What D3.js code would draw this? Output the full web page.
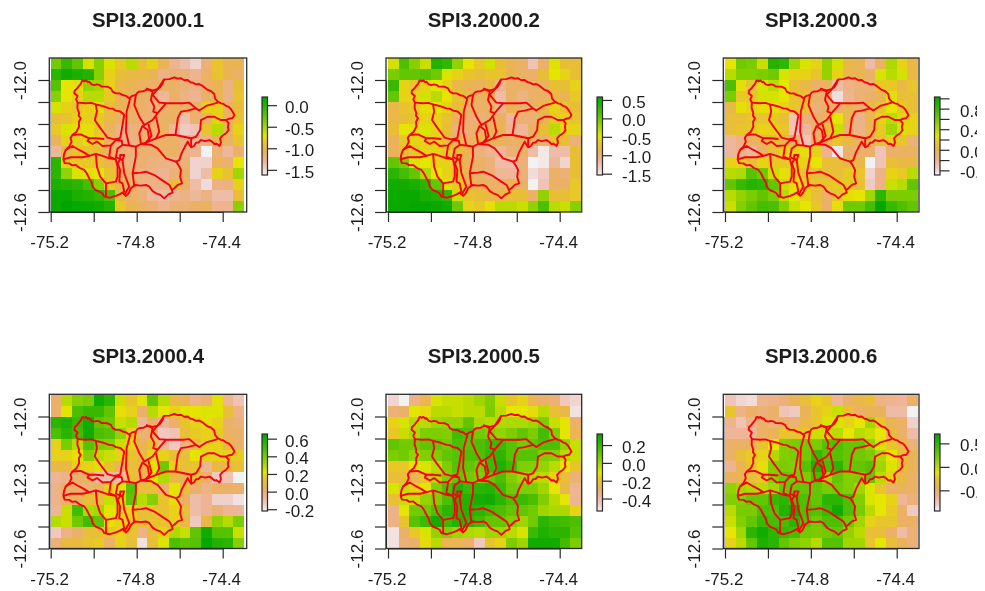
<!DOCTYPE html>
<html>
<head>
<meta charset="utf-8">
<title>SPI3 2000</title>
<script src="https://cdn.jsdelivr.net/npm/d3@7"></script>
<style>
  html, body { margin: 0; padding: 0; background: #fff; }
  svg { display: block; filter: blur(0.55px); }
  text { font-family: "Liberation Sans", Arial, sans-serif; fill: #1c1c1c; }
</style>
</head>
<body>
<script>
// raster values, one row per latitude band, north to south
var spi1 = [
  [-.32,-.08,-.26,-.66,-.41,-.68,-.86,-.57,-.93,-.81,-1.04,-1.26,-1.35,-1.48,-1.17,-.90,-1.04,-1.04],
  [-.03,.10,.05,.01,-.41,-.81,-.93,-.99,-.99,-1.04,-1.22,-1.17,-1.17,-1.26,-1.11,-.90,-1.04,-1.11],
  [-.21,-.72,-.75,-.44,-.50,-.81,-.99,-1.04,-1.08,-1.11,-1.11,-1.11,-1.17,-1.22,-1.11,-1.04,-1.22,-.93],
  [-.41,-.72,-.81,-.57,-.57,-.86,-1.04,-1.08,-1.11,-1.11,-1.29,-1.11,-1.22,-1.26,-1.11,-1.04,-1.22,-.90],
  [-.66,-.81,-.86,-.81,-.75,-.93,-1.04,-1.08,-1.11,-1.17,-1.11,-1.08,-1.11,-1.11,-.81,-.81,-1.11,-.93],
  [-.93,-.90,-.81,-.81,-.86,-.99,-1.11,-1.11,-1.15,-1.15,-1.11,-1.11,-1.37,-1.15,-1.08,-.81,-1.08,-.90],
  [-.86,-.68,-.75,-.75,-.86,-1.08,-1.22,-1.19,-1.17,-1.15,-1.08,-1.29,-1.44,-1.40,-.90,-.57,-1.04,-.81],
  [-1.04,-.81,-.81,-.75,-.81,-1.08,-1.22,-1.22,-1.11,-1.15,-1.11,-1.11,-1.19,-1.26,-1.22,-1.04,-1.08,-.90],
  [-1.29,-.99,-.90,-.90,-.93,-1.11,-1.17,-1.19,-1.15,-1.15,-1.11,-1.11,-1.22,-1.26,-1.62,-1.17,-1.29,-1.11],
  [-.03,-.81,-.86,-.86,-.90,-1.00,-1.15,-1.19,-1.15,-1.19,-1.22,-1.22,-1.17,-1.49,-1.48,-1.08,-1.15,-.72],
  [-.03,-.44,-.68,-.75,-.72,-.90,-1.08,-1.15,-1.19,-1.22,-1.26,-1.17,-1.11,-1.49,-1.35,-.81,-.90,-.50],
  [.05,.01,-.03,-.14,-.41,-.86,-1.04,-1.11,-1.22,-1.22,-1.22,-.93,-1.11,-1.35,-1.53,-1.22,-1.19,-.81],
  [.14,.14,.05,.01,-.05,-.17,-.99,-1.11,-1.17,-1.29,-1.33,-1.26,-1.22,-1.29,-1.22,-1.35,-1.35,-.93],
  [.14,.19,.15,.14,.10,.01,-.86,-1.04,-1.11,-1.15,-1.26,-1.17,-1.17,-1.11,-1.08,-1.26,-1.26,-.41]
];
var spi2 = [
  [-.41,.16,-.12,-.37,.37,.30,-.16,-.48,-.65,-.41,-.73,-.86,-.94,-1.28,-.94,-.44,-.73,-.73],
  [-.05,.05,.05,.11,-.01,-.44,-.58,-.69,-.73,-.69,-.69,-.86,-.94,-.94,-.73,-.48,-.58,-.73],
  [.26,-.58,-.65,-.58,-.48,-.58,-.80,-.86,-.90,-.80,-1.11,-.94,-.94,-.94,-.90,-.73,-.73,-.58],
  [.05,-.58,-.58,-.41,-.31,-.48,-.69,-.80,-.90,-.86,-1.22,-.94,-1.07,-.94,-.94,-.80,-.86,-.65],
  [-.80,-.69,-.65,-.52,-.48,-.58,-.73,-.90,-.94,-.94,-1.11,-.86,-.94,-.94,-.80,-.58,-.69,-.73],
  [-.80,-.73,-.69,-.58,-.58,-.69,-.90,-.99,-1.01,-.94,-.90,-1.15,-.99,-.99,-.86,-.65,-.58,-.69],
  [-.73,-.48,-.52,-.44,-.58,-.73,-1.01,-.99,-.94,-.90,-.86,-1.11,-1.15,-.94,-.73,-.31,-.58,-.58],
  [-.90,-.65,-.58,-.58,-.58,-.73,-.86,-.94,-.80,-.86,-.86,-.94,-.90,-.90,-.94,-.69,-.73,-1.03],
  [-.90,-.73,-.65,-.58,-.58,-.65,-.73,-.86,-1.03,-1.11,-1.15,-1.01,-.94,-1.22,-1.49,-1.22,-1.22,-.73],
  [.05,-.05,-.44,-.48,-.58,-.58,-.80,-.90,-.94,-1.01,-1.22,-1.22,-1.01,-1.54,-1.49,-1.15,-1.39,-.73],
  [.33,.20,.05,-.27,-.48,-.58,-.73,-.86,-.94,-1.01,-1.15,-1.15,-1.01,-1.43,-1.32,-.94,-1.01,-.73],
  [.47,.47,.43,.33,.05,-.44,-.65,-.80,-.90,-.94,-.94,-.86,-.94,-1.54,-1.28,-.94,-.94,-.65],
  [.50,.52,.52,.43,.37,.30,-.37,-.69,-.73,-.80,-.82,-.73,-.73,-.94,-.16,-.73,-.73,-.65],
  [.52,.52,.54,.54,.52,.47,-.01,-.58,-.65,-.52,-.31,-.31,-.37,-.16,.16,-.31,-.37,-.12]
];
var spi3 = [
  [.27,.60,.57,.34,.87,.83,.45,.30,.19,.49,.31,.04,0,-.26,-.04,.42,.19,.04],
  [.39,.54,.54,.57,.60,.30,.19,.19,.12,.49,.19,0,0,-.07,.30,.39,.31,.04],
  [.72,.24,.12,.30,.39,.27,.09,.04,-.07,-.04,-.26,-.16,-.11,-.11,.15,.15,.04,.12],
  [.57,.15,.12,.31,.31,.27,.12,.09,-.07,-.07,-.42,-.19,-.11,-.07,0,.24,.09,.09],
  [.04,.24,.19,.24,.24,.19,.12,.09,-.11,-.07,-.07,0,-.07,.04,.12,.27,.15,.09],
  [.09,.09,.12,.12,.15,.09,-.31,-.11,-.07,-.04,.27,0,-.16,0,.19,.39,.19,.19],
  [.09,.12,.15,.19,.19,.12,-.31,-.22,-.07,.09,.34,-.07,-.16,0,.15,.45,.30,.19],
  [-.22,-.16,-.04,0,.09,.04,-.04,-.31,-.04,0,.12,.04,-.04,0,.09,.19,.12,-.11],
  [-.22,-.16,-.22,-.07,.09,.19,.19,.24,.19,-.19,-.45,-.07,-.07,-.07,-.31,-.07,-.04,-.04],
  [.19,.19,.09,.19,.15,.15,.19,.19,.27,.09,.09,.04,.04,-.49,-.31,.09,.04,.04],
  [.39,.42,.69,.60,.34,.24,.19,.12,.09,.09,.09,.15,.12,-.38,-.16,.19,.15,.39],
  [.65,.80,.87,.84,.65,.34,.24,.15,.12,.12,.15,.15,.09,-.34,-.16,.34,.39,.65],
  [.39,.49,.57,.65,.57,.39,.27,.19,.09,-.07,.12,.24,.27,.45,.84,.57,.57,.57],
  [.34,.54,.65,.75,.72,.54,.34,.27,.12,-.07,.24,.60,.60,.75,1.00,.80,.72,.65]
];
var spi4 = [
  [.02,.29,.37,.39,.61,.55,.26,.13,.22,.44,.29,.09,.06,-.03,0,.20,-.05,-.11],
  [.02,.22,.48,.52,.52,.44,.20,.17,.02,.29,.22,.17,.22,.22,.23,.23,.11,-.03],
  [.55,.58,.52,.61,.44,.41,.26,.29,-.06,.02,-.05,.02,.13,.17,.20,.17,.02,0],
  [.48,.55,.50,.61,.48,.46,.35,.17,0,.04,-.13,-.11,.11,.15,.17,.15,.04,.02],
  [.17,.39,.29,.46,.39,.37,.26,.17,.06,.13,-.06,-.13,-.03,.09,.17,.17,.09,.02],
  [.17,.17,.22,.37,.29,.26,.17,.13,.09,.17,.17,.11,.11,.22,.17,.17,.17,.15],
  [.09,.09,.17,.17,.20,.13,.04,.11,.09,.22,.41,.17,.11,.13,-.05,.09,.09,.11],
  [-.05,-.03,.02,.04,-.09,-.09,-.09,.11,.04,.23,.30,.09,.06,.11,.02,-.13,-.11,-.22],
  [-.03,.02,.02,0,.04,.17,.22,.46,.11,.11,.02,.22,.11,.02,-.03,.04,.02,.02],
  [-.03,.04,.04,.11,.11,.26,.26,.44,.29,.37,.13,.20,.04,-.09,-.05,-.15,-.15,-.19],
  [-.05,.26,.50,.30,.32,.22,.17,.17,.11,.13,.13,.17,.11,-.09,-.05,0,-.05,-.06],
  [.29,.26,.41,.50,.44,.20,.17,.15,.11,.13,.13,.17,.09,-.13,.09,.35,.29,.39],
  [-.13,-.03,.02,.11,.11,.15,.17,.13,-.03,.11,.17,.30,.26,.44,.61,.46,.46,.26],
  [0,.09,.09,.13,.15,.02,.17,.11,-.19,.11,.23,.48,.44,.46,.64,.57,.55,.37]
];
var spi5 = [
  [-.48,-.54,-.35,-.26,-.09,-.06,-.06,-.04,0,.05,-.06,-.19,-.15,-.26,-.30,-.32,-.45,-.48],
  [-.32,-.30,-.11,-.13,-.04,-.04,-.06,-.04,-.04,.06,-.04,-.11,-.11,-.13,-.04,-.21,-.24,-.51],
  [-.15,-.09,-.04,-.04,0,.02,.02,.11,-.02,-.04,-.02,-.02,-.02,0,.06,-.06,-.11,-.30],
  [-.18,-.06,-.02,.06,.06,.05,.17,.15,.08,.06,.02,.06,.11,.06,.17,.06,-.11,-.26],
  [.11,.08,.08,.11,.11,.08,.15,.13,.15,.19,.19,.13,.08,.11,.15,.15,.02,-.06],
  [.06,.08,.02,.05,.06,.11,.13,.15,.15,.20,.22,.13,.13,.13,.06,.05,-.04,-.06],
  [-.18,-.18,-.11,-.09,-.04,.06,.13,.11,.08,.19,.25,.19,.06,.05,.02,-.04,-.11,-.19],
  [-.21,-.21,-.26,-.18,-.02,.06,.11,.08,.06,.11,.15,.05,0,-.02,-.04,-.15,-.21,-.32],
  [-.09,-.06,-.15,-.11,.05,.15,.24,.19,.22,.24,.19,.08,.06,.06,0,-.11,-.24,-.37],
  [-.21,-.06,-.06,.02,.06,.15,.24,.24,.27,.28,.22,.15,.19,.15,.05,-.04,-.11,-.37],
  [-.35,-.11,.08,.08,.15,.22,.22,.24,.22,.19,.15,.11,.11,.08,0,-.02,-.02,-.15],
  [-.35,-.19,.13,.19,.28,.19,.24,.22,.17,.11,.11,.06,0,.08,.22,.19,.17,.15],
  [-.51,-.30,-.18,-.09,.02,.05,0,-.02,-.04,0,0,-.04,-.09,.19,.25,.22,.22,.13],
  [-.51,-.32,-.30,-.13,-.04,-.26,-.26,-.30,-.45,-.19,-.15,.06,0,.28,.28,.28,.17,.06]
];
var spi6 = [
  [-.74,-.83,-.86,-.61,-.58,-.53,-.42,-.32,-.20,-.28,-.64,-.48,-.37,-.32,-.58,-.61,-.64,-.48],
  [-.28,-.58,-.48,-.53,-.48,-.74,-.78,-.42,-.28,-.20,-.04,-.32,-.48,-.42,-.45,-.69,-.69,-.94],
  [-.61,-.74,-.58,-.48,-.53,-.48,-.53,-.37,-.28,-.09,-.09,-.20,-.12,.08,-.28,-.42,-.48,-.81],
  [-.64,-.64,-.64,-.48,-.42,-.28,-.28,-.28,-.04,-.04,.01,-.12,.01,-.04,-.12,-.37,-.48,-.69],
  [-.48,-.48,-.45,-.28,-.12,.18,.21,.24,.21,.34,.37,.29,.29,.13,-.09,-.28,-.37,-.53],
  [-.48,-.32,-.25,-.20,.04,.18,.21,.24,.45,.34,.34,.29,.24,.21,.04,-.12,-.32,-.42],
  [-.61,-.42,-.28,-.15,.18,.21,.18,.34,.57,.40,.50,.29,.29,.34,.08,-.09,-.32,-.42],
  [-.45,-.42,-.32,-.25,.18,.29,.24,.21,.40,.08,.29,.18,.18,.29,.01,-.20,-.37,-.48],
  [.13,.08,.04,.01,.08,.29,.29,.29,.29,.21,.24,.18,.08,-.09,-.28,-.48,-.45,-.48],
  [.18,.18,.29,.29,.45,.50,.40,.37,.29,.50,.50,.37,.18,-.09,-.12,-.20,-.64,-.53],
  [.01,.21,.21,.37,.37,.54,.62,.37,.34,.45,.62,.37,.21,.01,-.12,-.25,-.48,-.78],
  [-.04,.18,.29,.45,.40,.40,.50,.34,.24,.37,.37,.24,.08,-.20,-.28,-.28,-.48,-.48],
  [-.12,.08,.50,.62,.50,.45,.40,.24,.21,.24,.29,.13,.01,-.32,-.32,-.48,-.69,-.53],
  [-.20,.01,.29,.57,.50,.29,.18,.13,.01,.34,.34,.08,.08,-.28,-.12,-.32,-.45,-.53]
];

var titles = ["SPI3.2000.1", "SPI3.2000.2", "SPI3.2000.3", "SPI3.2000.4", "SPI3.2000.5", "SPI3.2000.6"];
var grids = [spi1, spi2, spi3, spi4, spi5, spi6];
// colour limits of each panel (top and bottom of the legend bar)
var zLimits = [[.19, -1.62], [.58, -1.536], [1.026, -.49], [.653, -.22], [.324, -.54], [.70, -.94]];
var legendTicks = [
  [0, -.5, -1, -1.5],
  [.5, 0, -.5, -1, -1.5],
  [1, .8, .6, .4, .2, 0, -.2, -.4],
  [.6, .4, .2, 0, -.2],
  [.2, 0, -.2, -.4],
  [.5, 0, -.5]
];
var legendLabels = [
  [0, -.5, -1, -1.5],
  [.5, 0, -.5, -1, -1.5],
  [.8, .4, 0, -.4],
  [.6, .4, .2, 0, -.2],
  [.2, 0, -.2, -.4],
  [.5, 0, -.5]
];
var xTicks = [-75.2, -75, -74.8, -74.6, -74.4];
var xLabels = [-75.2, -74.8, -74.4];
var yTicks = [-12, -12.1, -12.2, -12.3, -12.4, -12.5, -12.6];
var yLabels = [-12, -12.3, -12.6];

// raster origin and cell size in degrees
var lonStart = -75.2, latStart = -11.9, cellDeg = 0.05;

// sub-basin boundaries, lon/lat
var outline = [[-75.052,-12.000],[-75.044,-12.006],[-75.035,-12.002],[-75.027,-12.010],[-75.021,-12.008],[-75.010,-12.020],[-74.998,-12.023],[-74.986,-12.020],[-74.975,-12.022],[-74.963,-12.030],[-74.951,-12.030],[-74.935,-12.031],[-74.920,-12.038],[-74.912,-12.053],[-74.897,-12.061],[-74.880,-12.061],[-74.866,-12.068],[-74.850,-12.072],[-74.835,-12.083],[-74.820,-12.072],[-74.804,-12.068],[-74.797,-12.058],[-74.788,-12.053],[-74.768,-12.051],[-74.749,-12.042],[-74.726,-12.047],[-74.703,-12.042],[-74.690,-12.032],[-74.679,-12.015],[-74.677,-12.004],[-74.672,-11.997],[-74.648,-11.996],[-74.625,-11.988],[-74.610,-11.994],[-74.594,-11.992],[-74.579,-12.001],[-74.563,-12.000],[-74.550,-12.010],[-74.540,-12.012],[-74.524,-12.020],[-74.509,-12.018],[-74.492,-12.028],[-74.470,-12.045],[-74.455,-12.050],[-74.439,-12.064],[-74.436,-12.084],[-74.423,-12.098],[-74.408,-12.106],[-74.398,-12.108],[-74.384,-12.118],[-74.372,-12.122],[-74.361,-12.133],[-74.350,-12.151],[-74.345,-12.160],[-74.356,-12.174],[-74.370,-12.176],[-74.384,-12.182],[-74.372,-12.197],[-74.376,-12.212],[-74.373,-12.228],[-74.384,-12.242],[-74.400,-12.252],[-74.412,-12.265],[-74.408,-12.285],[-74.415,-12.300],[-74.428,-12.290],[-74.439,-12.291],[-74.450,-12.280],[-74.462,-12.273],[-74.482,-12.278],[-74.501,-12.273],[-74.513,-12.284],[-74.524,-12.285],[-74.534,-12.300],[-74.547,-12.306],[-74.556,-12.292],[-74.563,-12.280],[-74.574,-12.300],[-74.590,-12.330],[-74.602,-12.364],[-74.617,-12.371],[-74.605,-12.388],[-74.594,-12.409],[-74.598,-12.440],[-74.589,-12.470],[-74.609,-12.477],[-74.625,-12.492],[-74.636,-12.500],[-74.633,-12.512],[-74.652,-12.520],[-74.672,-12.538],[-74.690,-12.522],[-74.710,-12.515],[-74.726,-12.505],[-74.741,-12.485],[-74.757,-12.477],[-74.780,-12.480],[-74.808,-12.477],[-74.827,-12.492],[-74.838,-12.515],[-74.850,-12.527],[-74.866,-12.512],[-74.880,-12.520],[-74.897,-12.527],[-74.925,-12.535],[-74.951,-12.530],[-74.960,-12.515],[-74.974,-12.507],[-74.992,-12.500],[-75.005,-12.485],[-75.010,-12.465],[-75.021,-12.447],[-75.032,-12.425],[-75.044,-12.409],[-75.065,-12.400],[-75.083,-12.386],[-75.100,-12.388],[-75.114,-12.379],[-75.135,-12.378],[-75.141,-12.361],[-75.138,-12.338],[-75.130,-12.318],[-75.113,-12.302],[-75.103,-12.280],[-75.108,-12.264],[-75.099,-12.250],[-75.080,-12.235],[-75.068,-12.212],[-75.069,-12.190],[-75.060,-12.174],[-75.070,-12.162],[-75.068,-12.151],[-75.076,-12.128],[-75.075,-12.103],[-75.082,-12.088],[-75.075,-12.073],[-75.090,-12.060],[-75.088,-12.048],[-75.078,-12.040],[-75.068,-12.027],[-75.060,-12.018],[-75.052,-12.000]];
var innerLines = [
  [[-75.075,-12.103],[-75.037,-12.106],[-75.012,-12.104],[-74.990,-12.111],[-74.959,-12.118],[-74.928,-12.129],[-74.912,-12.130],[-74.897,-12.139],[-74.876,-12.143],[-74.858,-12.159],[-74.866,-12.205],[-74.877,-12.265]],
  [[-74.990,-12.111],[-74.985,-12.144],[-74.995,-12.182],[-74.974,-12.212],[-74.951,-12.242],[-74.936,-12.262],[-74.905,-12.270],[-74.877,-12.265]],
  [[-75.099,-12.250],[-75.060,-12.247],[-75.021,-12.265],[-74.990,-12.265],[-74.951,-12.268]],
  [[-75.021,-12.265],[-75.029,-12.277],[-75.005,-12.291],[-74.985,-12.280],[-74.959,-12.300],[-74.920,-12.297],[-74.897,-12.273],[-74.877,-12.265]],
  [[-75.130,-12.318],[-75.099,-12.300],[-75.068,-12.318],[-75.044,-12.330],[-75.021,-12.345],[-74.990,-12.336],[-74.959,-12.345],[-74.928,-12.356],[-74.897,-12.361]],
  [[-75.141,-12.361],[-75.106,-12.351],[-75.052,-12.351],[-75.021,-12.345]],
  [[-74.990,-12.336],[-74.985,-12.394],[-74.970,-12.439],[-74.943,-12.470],[-74.943,-12.530]],
  [[-74.943,-12.470],[-74.897,-12.462],[-74.889,-12.439],[-74.889,-12.394],[-74.897,-12.361],[-74.928,-12.348],[-74.920,-12.297]],
  [[-74.897,-12.273],[-74.870,-12.276],[-74.866,-12.295],[-74.889,-12.311],[-74.897,-12.351],[-74.866,-12.364],[-74.858,-12.341],[-74.877,-12.341],[-74.877,-12.361],[-74.889,-12.379],[-74.877,-12.409],[-74.881,-12.462],[-74.866,-12.470],[-74.858,-12.508],[-74.866,-12.512]],
  [[-74.866,-12.295],[-74.835,-12.298],[-74.804,-12.303],[-74.780,-12.291]],
  [[-74.804,-12.303],[-74.804,-12.348],[-74.819,-12.424],[-74.811,-12.485]],
  [[-74.866,-12.364],[-74.858,-12.424],[-74.835,-12.485],[-74.858,-12.523]],
  [[-74.819,-12.424],[-74.780,-12.421],[-74.757,-12.417],[-74.718,-12.432],[-74.672,-12.462],[-74.648,-12.477],[-74.636,-12.500]],
  [[-74.830,-12.083],[-74.847,-12.144],[-74.850,-12.235],[-74.835,-12.298]],
  [[-74.804,-12.068],[-74.811,-12.114],[-74.788,-12.167],[-74.765,-12.205],[-74.726,-12.182],[-74.703,-12.151],[-74.664,-12.106],[-74.586,-12.106],[-74.555,-12.103],[-74.524,-12.129],[-74.509,-12.139],[-74.477,-12.118],[-74.423,-12.103]],
  [[-74.524,-12.129],[-74.563,-12.139],[-74.594,-12.144],[-74.609,-12.174],[-74.614,-12.212],[-74.620,-12.250],[-74.547,-12.265],[-74.547,-12.306]],
  [[-74.547,-12.265],[-74.524,-12.258],[-74.505,-12.227],[-74.501,-12.182],[-74.470,-12.167],[-74.439,-12.167],[-74.408,-12.182],[-74.384,-12.182]],
  [[-74.780,-12.291],[-74.757,-12.285],[-74.710,-12.265],[-74.664,-12.250],[-74.620,-12.250]],
  [[-74.780,-12.291],[-74.734,-12.294],[-74.703,-12.311],[-74.664,-12.356],[-74.617,-12.371]],
  [[-74.710,-12.167],[-74.695,-12.235],[-74.710,-12.265]],
  [[-74.672,-11.997],[-74.703,-12.042],[-74.726,-12.068],[-74.695,-12.103],[-74.664,-12.106]],
  [[-74.757,-12.038],[-74.726,-12.053],[-74.734,-12.091],[-74.718,-12.121],[-74.723,-12.144],[-74.703,-12.151]],
  [[-74.780,-12.291],[-74.788,-12.242],[-74.773,-12.209],[-74.749,-12.227],[-74.741,-12.273],[-74.765,-12.291]],
  [[-74.746,-12.200],[-74.731,-12.254],[-74.757,-12.285]]
];

// layout of the 3x2 panels
var tickLeft = [50.7, 388, 725], tickRight = [222.7, 559.7, 896.7];
var boxLeft = [49.3, 386, 723.3], boxRight = [246.7, 581.7, 919];
var rowTick0 = [80, 416.5], rowTick6 = [212, 548.5], boxTop = [58, 394.3];
var legendLeft = [262, 597, 934.5], legendTop = [97, 434], legendBottom = [175, 511];
var labelLeft = [285, 622, 960];

var svg = d3.select("body").append("svg")
    .attr("width", 985)
    .attr("height", 591);

svg.append("defs").append("clipPath")
    .attr("id", "pageclip")
  .append("rect")
    .attr("x", 0).attr("y", 0).attr("width", 977).attr("height", 591);

// same ramp as rev(terrain.colors(255)) in R
function terrain(t) {
  var h, s, v;
  if (t < 0.5) {
    var a = t / 0.5;
    h = 120 - 60 * a; s = 1; v = 0.65 + 0.25 * a;
  } else {
    var b = (t - 0.5) / 0.5;
    h = 60 - 60 * b; s = 1 - b; v = 0.9 + 0.05 * b;
  }
  var c = v * s, x = c * (1 - Math.abs((h / 60) % 2 - 1)), m = v - c;
  var rgb = h < 60 ? [c, x, 0] : [x, c, 0];
  return d3.rgb((rgb[0] + m) * 255, (rgb[1] + m) * 255, (rgb[2] + m) * 255).formatHex();
}

var oneDec = function(d) { return d.toFixed(1); };

grids.forEach(function(grid, i) {
  var col = i % 3, row = Math.floor(i / 3);
  var g = svg.append("g");

  var x = d3.scaleLinear().domain([-75.2, -74.4]).range([tickLeft[col], tickRight[col]]);
  var y = d3.scaleLinear().domain([-12, -12.6]).range([rowTick0[row], rowTick6[row]]);
  var color = d3.scaleLinear().domain(zLimits[i]).range([0, 1]).clamp(true);

  var cells = [];
  grid.forEach(function(vals, r) {
    vals.forEach(function(val, c) { cells.push({r: r, c: c, value: val}); });
  });

  g.append("g").selectAll("rect")
      .data(cells)
      .enter().append("rect")
      .attr("x", function(d) { return x(lonStart + d.c * cellDeg); })
      .attr("y", function(d) { return y(latStart - d.r * cellDeg); })
      .attr("width", x(lonStart + cellDeg) - x(lonStart))
      .attr("height", y(latStart - cellDeg) - y(latStart))
      .attr("shape-rendering", "crispEdges")
      .style("fill", function(d) { return terrain(color(d.value)); });

  var line = d3.line()
      .x(function(d) { return x(d[0]); })
      .y(function(d) { return y(d[1]); });

  g.append("g").selectAll("path")
      .data([outline].concat(innerLines))
      .enter().append("path")
      .attr("d", line)
      .style("fill", "none")
      .style("stroke", "#f8000c")
      .style("stroke-width", 1.9)
      .style("stroke-linejoin", "round");

  g.append("rect")
      .attr("x", boxLeft[col])
      .attr("y", boxTop[row])
      .attr("width", boxRight[col] - boxLeft[col])
      .attr("height", rowTick6[row] - boxTop[row])
      .style("fill", "none")
      .style("stroke", "#2a2a2a")
      .style("stroke-width", 1.3);

  // x axis
  var xAxis = d3.axisBottom(x)
      .tickValues(xTicks)
      .tickSize(10)
      .tickSizeOuter(0)
      .tickFormat(function(d) { return xLabels.indexOf(d) >= 0 ? oneDec(d) : ""; });
  var ax = g.append("g")
      .attr("transform", "translate(0," + rowTick6[row] + ")")
      .call(xAxis);
  ax.select(".domain").style("stroke", "#2a2a2a").style("stroke-width", 1.2);
  ax.selectAll("line").style("stroke", "#2a2a2a").style("stroke-width", 1.2);
  ax.selectAll("text")
      .attr("x", -1.5)
      .attr("y", 24)
      .attr("dy", "0.72em")
      .style("font-size", "17px")
      .style("font-family", "'Liberation Sans', Arial, sans-serif");

  // y axis, labels turned 90 degrees as in R
  var yAxis = d3.axisLeft(y)
      .tickValues(yTicks)
      .tickSize(11)
      .tickSizeOuter(0)
      .tickFormat(function(d) { return yLabels.indexOf(d) >= 0 ? oneDec(d) : ""; });
  var ay = g.append("g")
      .attr("transform", "translate(" + boxLeft[col] + ",0)")
      .call(yAxis);
  ay.select(".domain").style("stroke", "#2a2a2a").style("stroke-width", 1.2);
  ay.selectAll("line").style("stroke", "#2a2a2a").style("stroke-width", 1.2);
  ay.selectAll("text")
      .attr("x", null)
      .attr("dy", null)
      .attr("transform", "translate(-23,0) rotate(-90)")
      .style("text-anchor", "middle")
      .style("font-size", "17px")
      .style("font-family", "'Liberation Sans', Arial, sans-serif");

  g.append("text")
      .attr("x", (boxLeft[col] + boxRight[col]) / 2)
      .attr("y", boxTop[row] - 31)
      .style("text-anchor", "middle")
      .style("font-size", "20.4px")
      .style("font-weight", "bold")
      .text(titles[i]);

  // colour legend
  var legendY = d3.scaleLinear().domain(zLimits[i]).range([legendTop[row], legendBottom[row]]);
  var steps = d3.range(legendTop[row], legendBottom[row]);
  g.append("g").selectAll("rect")
      .data(steps)
      .enter().append("rect")
      .attr("x", legendLeft[col])
      .attr("y", function(d) { return d; })
      .attr("width", 5.5)
      .attr("height", 1.2)
      .attr("shape-rendering", "crispEdges")
      .style("fill", function(d) { return terrain(color(legendY.invert(d + 0.5))); });
  g.append("rect")
      .attr("x", legendLeft[col])
      .attr("y", legendTop[row])
      .attr("width", 5.5)
      .attr("height", legendBottom[row] - legendTop[row])
      .style("fill", "none")
      .style("stroke", "#2a2a2a")
      .style("stroke-width", 1.2);

  var legendAxis = d3.axisRight(legendY)
      .tickValues(legendTicks[i])
      .tickSize(9.5)
      .tickSizeOuter(0)
      .tickFormat("");
  var al = g.append("g")
      .attr("transform", "translate(" + (legendLeft[col] + 5.5) + ",0)")
      .call(legendAxis);
  al.select(".domain").remove();
  al.selectAll("line").style("stroke", "#2a2a2a").style("stroke-width", 1.2);

  g.append("g")
      .attr("clip-path", "url(#pageclip)")
    .selectAll("text")
      .data(legendLabels[i])
      .enter().append("text")
      .attr("x", labelLeft[col])
      .attr("y", function(d) { return legendY(d) + 8; })
      .style("font-size", "17px")
      .text(oneDec);
});
</script>
</body>
</html>
